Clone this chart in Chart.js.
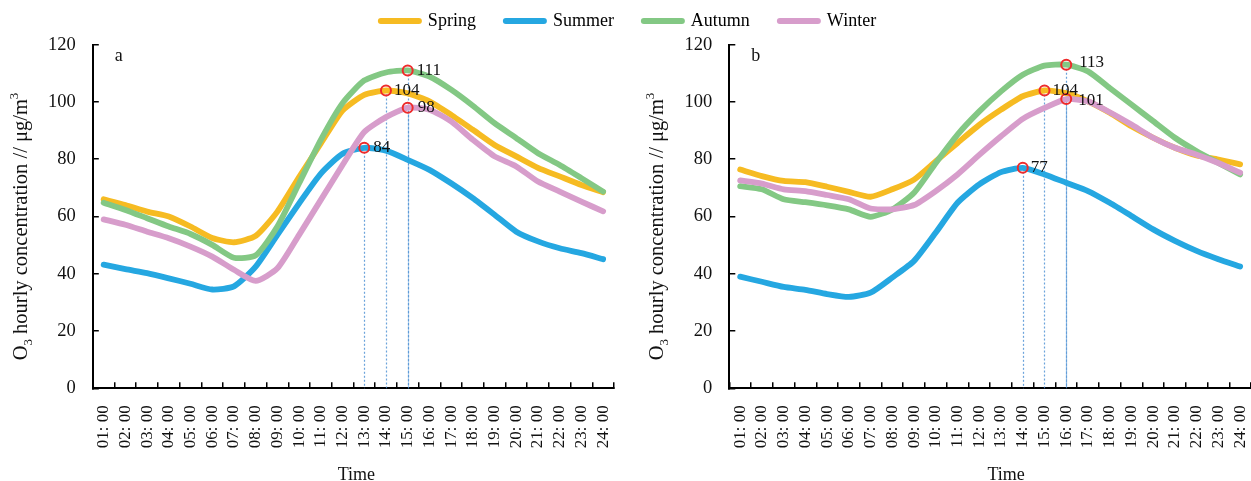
<!DOCTYPE html>
<html>
<head>
<meta charset="utf-8">
<script src="https://cdn.jsdelivr.net/npm/chart.js@4.4.1/dist/chart.umd.min.js"></script>
<style>
  html, body { margin: 0; padding: 0; background: #fff; width: 1251px; height: 481px; overflow: hidden; position: relative; }
  canvas { position: absolute; }
  #chartA { left: 0; top: 0; }
  #chartB { left: 626px; top: 0; }
  #legendCanvas { left: 3px; top: -18px; pointer-events: none; }
</style>
</head>
<body>
<canvas id="chartA" width="626" height="481"></canvas>
<canvas id="chartB" width="625" height="481"></canvas>
<canvas id="legendCanvas" width="1251" height="160"></canvas>
<script>
// Hour-of-day categories
const hours = ['01: 00','02: 00','03: 00','04: 00','05: 00','06: 00','07: 00','08: 00',
               '09: 00','10: 00','11: 00','12: 00','13: 00','14: 00','15: 00','16: 00',
               '17: 00','18: 00','19: 00','20: 00','21: 00','22: 00','23: 00','24: 00'];

const seasons = ['Spring', 'Summer', 'Autumn', 'Winter'];
const seasonColors = ['#F6BB22', '#25A7E1', '#83C884', '#D79DCB'];

// Panel a: mean O3 hourly concentration (µg/m³)
const springA = [66, 64, 61.7, 60, 56.5, 52.5, 51, 53.2, 61.7, 73.8, 85.5, 97, 102.5, 104, 103, 100.2, 95.5, 90.3, 85, 81, 77, 74, 71, 68.5];
const summerA = [43.2, 41.6, 40.2, 38.4, 36.5, 34.5, 35.6, 42.5, 53.6, 64.6, 75, 81.9, 84, 83, 79.8, 76.3, 71.6, 66.4, 60.6, 54.7, 51.3, 48.9, 47.2, 45.1];
const autumnA = [64.8, 62.3, 59.4, 56.5, 53.9, 50.1, 45.6, 46.4, 56.5, 71.6, 86.8, 99.6, 107.5, 110.3, 111, 108.9, 104.3, 98.7, 92.6, 87.4, 82.1, 78, 73.4, 68.7];
const winterA = [59, 57.1, 54.7, 52.4, 49.5, 46, 41.4, 37.5, 41.9, 53.6, 65.8, 78, 89.5, 94.7, 98, 97.3, 93.2, 86.8, 81, 77.5, 72.2, 68.7, 65.2, 61.8];

// Panel b: mean O3 hourly concentration (µg/m³)
const springB = [76.4, 74.1, 72.4, 72, 70.4, 68.6, 66.9, 69.5, 72.9, 79.3, 85.7, 92, 97.3, 102, 104, 103.1, 100.2, 96.2, 91.5, 87.5, 84, 81.3, 79.9, 78.2];
const summerB = [39, 37.2, 35.4, 34.4, 32.9, 31.9, 33.4, 38.7, 44.5, 54.4, 64.8, 71.2, 75.5, 77, 74.7, 71.8, 68.9, 64.8, 60.2, 55.5, 51.5, 48, 45.1, 42.5];
const autumnB = [70.6, 69.5, 66, 65, 63.9, 62.5, 59.9, 62.5, 68.3, 78.7, 88.6, 96.7, 103.7, 109.5, 112.7, 113, 110.7, 104.9, 99.1, 93.3, 87.5, 82.8, 78.7, 74.7];
const winterB = [72.6, 71.5, 69.5, 68.9, 67.5, 66, 62.8, 62.5, 64, 68.9, 74.7, 81.5, 88, 94.1, 97.9, 101, 100.2, 96.4, 92.1, 87.5, 84, 81.6, 78.7, 75.3];

const yTicks = [0, 20, 40, 60, 80, 100, 120];

const FONT = '"Liberation Serif", "Times New Roman", serif';
const peakIndex = arr => arr.indexOf(Math.max(...arr));

// Dotted drop lines from each daily peak down to the time axis
const dropLines = {
  id: 'dropLines',
  beforeDatasetsDraw(chart) {
    const { ctx, chartArea } = chart;
    ctx.save();
    ctx.strokeStyle = 'rgba(70,140,210,0.8)';
    ctx.lineWidth = 1.2;
    ctx.setLineDash([2, 2]);
    chart.data.datasets.forEach((ds, i) => {
      const pt = chart.getDatasetMeta(i).data[peakIndex(ds.data)];
      ctx.beginPath();
      ctx.moveTo(Math.round(pt.x) + 0.5, pt.y);
      ctx.lineTo(Math.round(pt.x) + 0.5, chartArea.bottom);
      ctx.stroke();
    });
    ctx.restore();
  }
};

// Value labels beside the peak markers
const peakLabels = {
  id: 'peakLabels',
  afterDatasetsDraw(chart, args, opts) {
    const { ctx } = chart;
    ctx.save();
    ctx.font = '17px ' + FONT;
    ctx.fillStyle = '#111';
    ctx.textAlign = 'left';
    ctx.textBaseline = 'middle';
    chart.data.datasets.forEach((ds, i) => {
      const k = peakIndex(ds.data);
      const pt = chart.getDatasetMeta(i).data[k];
      const off = (opts.offsets && opts.offsets[ds.label]) || [9, 0];
      ctx.fillText(String(ds.data[k]), pt.x + off[0], pt.y + off[1]);
    });
    ctx.restore();
  }
};

// Panel letter and axis titles
const captions = {
  id: 'captions',
  afterDraw(chart, args, opts) {
    const { ctx, chartArea: a } = chart;
    ctx.save();
    ctx.fillStyle = '#111';
    ctx.font = '18px ' + FONT;
    ctx.textAlign = 'left';
    ctx.textBaseline = 'middle';
    ctx.fillText(opts.letter, a.left + 22, a.top + 12);

    ctx.textAlign = 'center';
    ctx.textBaseline = 'alphabetic';
    ctx.fillText('Time', (a.left + a.right) / 2 + (opts.timeShift || 0), chart.height - 1);

    const parts = [
      { text: 'O', font: '20.5px ' + FONT, shift: 0 },
      { text: '3', font: '13px ' + FONT, shift: 5 },
      { text: ' hourly concentration // \u03bcg/m', font: '20.5px ' + FONT, shift: 0 },
      { text: '3', font: '13px ' + FONT, shift: -9 }
    ];
    ctx.translate(a.left - 66, (a.top + a.bottom) / 2 + 10);
    ctx.rotate(-Math.PI / 2);
    let total = 0;
    parts.forEach(p => { ctx.font = p.font; p.w = ctx.measureText(p.text).width; total += p.w; });
    let x = -total / 2;
    ctx.textAlign = 'left';
    parts.forEach(p => { ctx.font = p.font; ctx.fillText(p.text, x, p.shift); x += p.w; });
    ctx.restore();
  }
};

function buildDatasets(values) {
  return values.map((data, i) => ({
    label: seasons[i],
    data: data,
    borderColor: seasonColors[i],
    backgroundColor: seasonColors[i],
    borderWidth: 5.8,
    borderCapStyle: 'round',
    borderJoinStyle: 'round',
    tension: 0.2,
    order: 3 - i,
    pointRadius: ctx => (ctx.dataIndex === peakIndex(data) ? 5 : 0),
    pointHoverRadius: ctx => (ctx.dataIndex === peakIndex(data) ? 5 : 0),
    pointBorderColor: '#EE2B2B',
    pointBorderWidth: 2,
    pointBackgroundColor: 'rgba(0,0,0,0)'
  }));
}

function makePanel(id, values, cfg) {
  return new Chart(document.getElementById(id), {
    type: 'line',
    data: { labels: hours, datasets: buildDatasets(values) },
    plugins: [dropLines, peakLabels, captions],
    options: {
      responsive: false,
      animation: false,
      devicePixelRatio: 1,
      layout: { padding: { left: 0, right: cfg.padRight, top: 44.7, bottom: 0 } },
      plugins: {
        legend: { display: false },
        tooltip: { enabled: false },
        peakLabels: { offsets: cfg.offsets },
        captions: { letter: cfg.letter, timeShift: cfg.timeShift }
      },
      scales: {
        x: {
          type: 'category',
          offset: true,
          grid: { offset: true, drawOnChartArea: false, drawTicks: true, tickLength: -6, color: '#000', lineWidth: 1.5 },
          border: { color: '#000', width: 2 },
          ticks: {
            autoSkip: false, minRotation: 90, maxRotation: 90, padding: 23,
            color: '#111', font: { family: FONT, size: 17 }
          },
          afterFit(scale) { scale.height = 92.7; scale.paddingLeft = 0; scale.paddingRight = 0; }
        },
        y: {
          min: 0, max: 120,
          afterBuildTicks(scale) { scale.ticks = yTicks.map(v => ({ value: v })); },
          grid: { drawOnChartArea: false, drawTicks: true, tickLength: -6, color: '#000', lineWidth: 1.5 },
          border: { color: '#000', width: 2 },
          ticks: { padding: 23, color: '#111', font: { family: FONT, size: 18.5 } },
          afterFit(scale) { scale.width = cfg.axisWidth; }
        }
      }
    }
  });
}

makePanel('chartA', [springA, summerA, autumnA, winterA], {
  letter: 'a', axisWidth: 92.8, padRight: 12, timeShift: 3,
  offsets: { Spring: [8, 0], Summer: [9, 0], Autumn: [9, 0], Winter: [10, 0] }
});

makePanel('chartB', [springB, summerB, autumnB, winterB], {
  letter: 'b', axisWidth: 103.3, padRight: 0, timeShift: 16,
  offsets: { Spring: [8, 0], Summer: [8, 0], Autumn: [13, -2], Winter: [12, 1] }
});

// Shared legend across both panels
new Chart(document.getElementById('legendCanvas'), {
  type: 'line',
  data: {
    labels: [],
    datasets: seasons.map((s, i) => ({ label: s, data: [], borderColor: seasonColors[i], backgroundColor: seasonColors[i] }))
  },
  options: {
    responsive: false,
    animation: false,
    devicePixelRatio: 1,
    scales: { x: { display: false }, y: { display: false } },
    plugins: {
      tooltip: { enabled: false },
      legend: {
        display: true,
        position: 'top',
        labels: {
          usePointStyle: true,
          pointStyleWidth: 38,
          padding: 30,
          color: '#111',
          font: { family: FONT, size: 18 },
          generateLabels(chart) {
            return chart.data.datasets.map((ds, i) => ({
              text: ds.label,
              strokeStyle: ds.borderColor,
              fillStyle: ds.borderColor,
              lineWidth: 6,
              lineCap: 'round',
              pointStyle: 'line',
              hidden: false,
              datasetIndex: i
            }));
          }
        }
      }
    }
  }
});
</script>
</body>
</html>
